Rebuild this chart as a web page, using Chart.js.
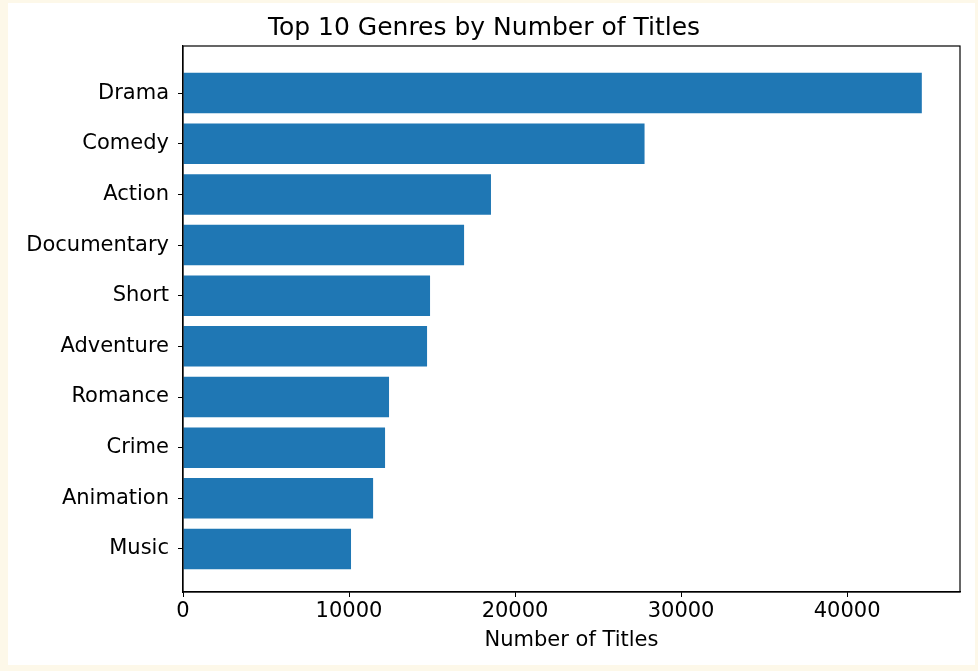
<!DOCTYPE html>
<html>
<head>
<script src="https://cdn.jsdelivr.net/npm/chart.js@4"></script>
<style>
  body { margin: 0; background: #fdf8e9; width: 978px; height: 671px; overflow: hidden; position: relative; }
  #box { position: absolute; left: 8px; top: 3px; width: 967px; height: 662px; background: #fff; }
</style>
</head>
<body>
<div id="box"><canvas id="c" width="967" height="662"></canvas></div>
<script>
// top 10 genres
const genres = ['Drama', 'Comedy', 'Action', 'Documentary', 'Short', 'Adventure', 'Romance', 'Crime', 'Animation', 'Music'];
const titleCounts = [44500, 27800, 18550, 16930, 14880, 14700, 12410, 12170, 11450, 10120];
const xTicks = [0, 10000, 20000, 30000, 40000];

const frame = {
  id: 'frame',
  afterDraw(chart) {
    const a = chart.chartArea, ctx = chart.ctx;
    ctx.save();
    ctx.strokeStyle = '#000';
    ctx.lineWidth = 1.2;
    ctx.strokeRect(a.left, a.top, a.right - a.left, a.bottom - a.top);
    ctx.restore();
  }
};

Chart.defaults.font.family = '"DejaVu Sans", sans-serif';
Chart.defaults.color = '#000';

new Chart(document.getElementById('c'), {
  type: 'bar',
  data: {
    datasets: [{
      data: titleCounts.map((v, i) => ({ x: v, y: i })),
      backgroundColor: '#1f77b4', barPercentage: 0.8, categoryPercentage: 1
    }]
  },
  options: {
    indexAxis: 'y',
    responsive: false,
    animation: false,
    layout: { padding: { left: 0, right: 15, top: 0, bottom: 12 } },
    plugins: {
      legend: { display: false },
      tooltip: { enabled: false },
      title: { display: true, text: 'Top 10 Genres by Number of Titles', font: { size: 25, weight: 'normal' }, padding: { top: 10, bottom: 3 } }
    },
    scales: {
      x: {
        type: 'linear', min: 0, max: 46800,
        afterBuildTicks(axis) { axis.ticks = xTicks.map(v => ({ value: v })); },
        afterFit(axis) { axis.height = 61; },
        grid: { drawOnChartArea: false, tickLength: 5, color: '#000' },
        border: { color: '#000', width: 1.2 },
        ticks: { font: { size: 21 }, padding: 2, callback: v => String(v) },
        title: { display: true, text: 'Number of Titles', font: { size: 21 }, padding: 0 }
      },
      y: {
        type: 'linear', reverse: true, min: -0.93, max: 9.85, offset: false,
        afterBuildTicks(axis) { axis.ticks = genres.map((g, i) => ({ value: i })); },
        afterFit(axis) { axis.width = 175; },
        grid: { drawOnChartArea: false, offset: false, tickLength: 5, color: '#000' },
        border: { color: '#000', width: 1.2 },
        ticks: { font: { size: 21 }, padding: 9, callback: v => genres[v] }
      }
    }
  },
  plugins: [frame]
});
</script>
</body>
</html>
